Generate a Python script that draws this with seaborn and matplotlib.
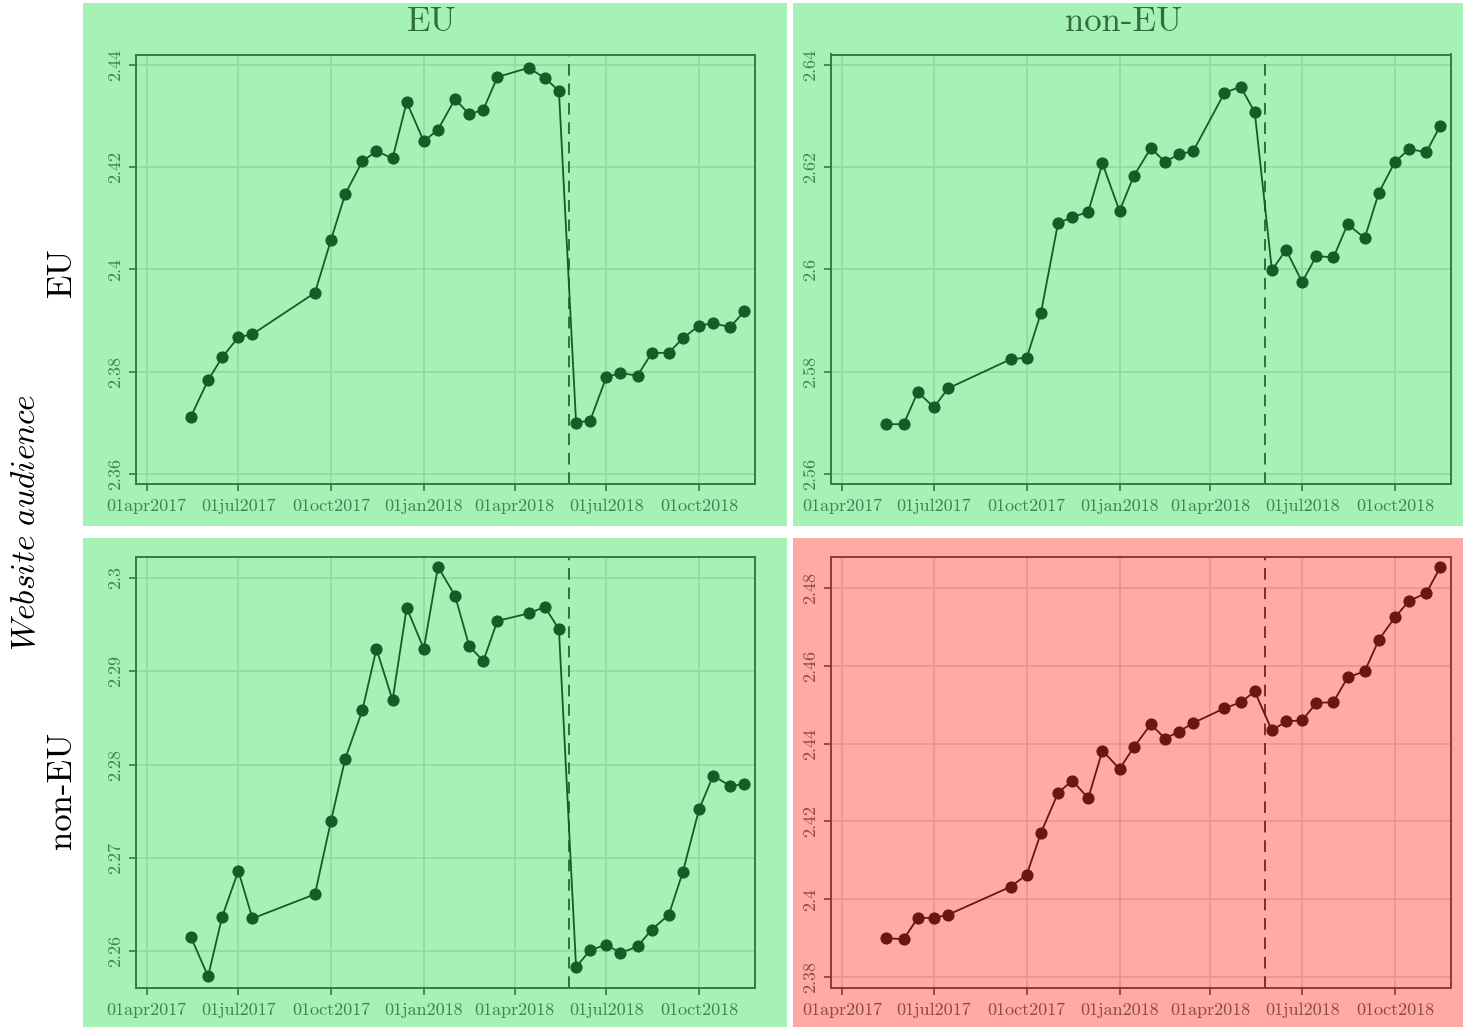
import matplotlib
matplotlib.use("Agg")
import matplotlib.pyplot as plt
import matplotlib.dates as mdates
from matplotlib.ticker import FuncFormatter
from matplotlib.patches import Rectangle
import pandas as pd
import seaborn as sns

# semi-monthly observation dates
dates = pd.to_datetime([
    "2017-05-15", "2017-06-01", "2017-06-15", "2017-07-01", "2017-07-15",
    "2017-09-15", "2017-10-01", "2017-10-15", "2017-11-01", "2017-11-15",
    "2017-12-01", "2017-12-15", "2018-01-01", "2018-01-15", "2018-02-01",
    "2018-02-15", "2018-03-01", "2018-03-15", "2018-04-15", "2018-05-01",
    "2018-05-15", "2018-06-01", "2018-06-15", "2018-07-01", "2018-07-15",
    "2018-08-01", "2018-08-15", "2018-09-01", "2018-09-15", "2018-10-01",
    "2018-10-15", "2018-11-01", "2018-11-15",
])

# rows = website audience, columns = EU / non-EU
eu_eu = [2.3712, 2.3783, 2.3828, 2.3867, 2.3873, 2.3954, 2.4058, 2.4147, 2.4211,
         2.4231, 2.4217, 2.4327, 2.4250, 2.4273, 2.4333, 2.4303, 2.4312, 2.4376,
         2.4394, 2.4374, 2.4349, 2.3700, 2.3704, 2.3789, 2.3797, 2.3792, 2.3836,
         2.3837, 2.3865, 2.3890, 2.3894, 2.3887, 2.3918]
eu_noneu = [2.5697, 2.5697, 2.5760, 2.5730, 2.5767, 2.5824, 2.5827, 2.5914, 2.6090,
            2.6102, 2.6112, 2.6207, 2.6114, 2.6182, 2.6237, 2.6210, 2.6225, 2.6231,
            2.6345, 2.6357, 2.6307, 2.5998, 2.6038, 2.5975, 2.6026, 2.6023, 2.6088,
            2.6061, 2.6150, 2.6210, 2.6235, 2.6229, 2.6281]
noneu_eu = [2.2615, 2.2573, 2.2637, 2.2686, 2.2635, 2.2661, 2.2740, 2.2806, 2.2858,
            2.2924, 2.2869, 2.2968, 2.2924, 2.3012, 2.2981, 2.2927, 2.2911, 2.2954,
            2.2962, 2.2969, 2.2945, 2.2583, 2.2601, 2.2607, 2.2598, 2.2605, 2.2623,
            2.2639, 2.2685, 2.2752, 2.2788, 2.2777, 2.2779]
noneu_noneu = [2.3900, 2.3897, 2.3952, 2.3952, 2.3960, 2.4032, 2.4063, 2.4170, 2.4273,
               2.4305, 2.4260, 2.4382, 2.4335, 2.4390, 2.4450, 2.4413, 2.4431, 2.4453,
               2.4491, 2.4506, 2.4534, 2.4434, 2.4457, 2.4460, 2.4504, 2.4507, 2.4570,
               2.4586, 2.4667, 2.4725, 2.4767, 2.4787, 2.4854]

gdpr_date = pd.Timestamp("2018-05-25")
tick_dates = pd.to_datetime(["2017-04-01", "2017-07-01", "2017-10-01", "2018-01-01",
                             "2018-04-01", "2018-07-01", "2018-10-01"])
tick_labels = ["01apr2017", "01jul2017", "01oct2017", "01jan2018",
               "01apr2018", "01jul2018", "01oct2018"]
col_titles = ["EU", "non-EU"]
row_titles = ["EU", "non-EU"]

sns.set_theme(style="ticks")
plt.rcParams["font.family"] = ["cmr10", "DejaVu Serif"]
plt.rcParams["mathtext.fontset"] = "cm"
plt.rcParams["axes.unicode_minus"] = False
plt.rcParams["axes.formatter.use_mathtext"] = True

W, H = 1463, 1027
fig = plt.figure(figsize=(W / 100, H / 100), dpi=100)
fig.patch.set_facecolor("white")

green = dict(bg="#a6f1b6", line="#165c26", spine="#2f7d42", grid="#8fdca2", text="#3d8450")
red = dict(bg="#ffaaa4", line="#6b1611", spine="#8a3b36", grid="#eb9791", text="#8a4a45")

# (values, yticks, ylim, colours, bg box px, axes box px)
panels = [
    (eu_eu, [2.36, 2.38, 2.40, 2.42, 2.44], (2.3581, 2.4420), green,
     (83, 3, 787, 526), (135.5, 54.5, 754.5, 483.5)),
    (eu_noneu, [2.56, 2.58, 2.60, 2.62, 2.64], (2.5581, 2.6420), green,
     (793, 3, 1463, 526), (831, 54.5, 1450.5, 483.5)),
    (noneu_eu, [2.26, 2.27, 2.28, 2.29, 2.30], (2.2561, 2.3023), green,
     (83, 538, 787, 1027), (135.5, 556.5, 754.5, 987.5)),
    (noneu_noneu, [2.38, 2.40, 2.42, 2.44, 2.46, 2.48], (2.3773, 2.4881), red,
     (793, 538, 1463, 1027), (831, 556.5, 1450.5, 987.5)),
]

for vals, yticks, ylim, c, bg, box in panels:
    x0, y0, x1, y1 = bg
    fig.add_artist(Rectangle((x0 / W, 1 - y1 / H), (x1 - x0) / W, (y1 - y0) / H,
                             transform=fig.transFigure, facecolor=c["bg"],
                             edgecolor="none", zorder=0))
    l, t, r, b = box
    ax = fig.add_axes([l / W, 1 - b / H, (r - l) / W, (b - t) / H])
    ax.set_facecolor(c["bg"])
    df = pd.DataFrame({"date": dates, "value": vals})
    sns.lineplot(data=df, x="date", y="value", ax=ax, color=c["line"], lw=1.3,
                 marker="o", markersize=8, markeredgecolor=c["line"], zorder=3)
    ax.axvline(gdpr_date, color=c["line"], lw=1.4, ls=(0, (6, 4)), alpha=0.85, zorder=2)
    ax.set_xlim(pd.Timestamp("2017-03-21"), pd.Timestamp("2018-11-25"))
    ax.set_ylim(*ylim)
    ax.set_xticks(tick_dates)
    ax.set_xticklabels(tick_labels)
    ax.set_yticks(yticks)
    ax.yaxis.set_major_formatter(FuncFormatter(lambda v, p: "%g" % round(v, 3)))
    ax.grid(True, color=c["grid"], lw=1.3)
    ax.set_axisbelow(True)
    for s in ax.spines.values():
        s.set_visible(True)
        s.set_color(c["spine"])
        s.set_linewidth(1.4)
    ax.tick_params(axis="both", direction="out", length=5, width=1.2,
                   color=c["spine"], labelcolor=c["text"], labelsize=13)
    ax.tick_params(axis="x", pad=6)
    ax.tick_params(axis="y", labelrotation=90, pad=4)
    for lbl in ax.get_yticklabels():
        lbl.set_va("center")
    ax.set_xlabel("")
    ax.set_ylabel("")

fig.text(432 / W, 1 - 22 / H, col_titles[0], ha="center", va="center",
         fontsize=25, color="#2f6e3c")
fig.text(1124 / W, 1 - 22 / H, col_titles[1], ha="center", va="center",
         fontsize=25, color="#2f6e3c")
fig.text(62 / W, 1 - 272 / H, row_titles[0], ha="center", va="center",
         rotation=90, fontsize=25, color="black")
fig.text(62 / W, 1 - 790 / H, row_titles[1], ha="center", va="center",
         rotation=90, fontsize=25, color="black")
fig.text(26 / W, 1 - 522 / H, r"$\mathit{Website\ audience}$", ha="center",
         va="center", rotation=90, fontsize=24, color="black")

fig.savefig("out.png", dpi=100)
